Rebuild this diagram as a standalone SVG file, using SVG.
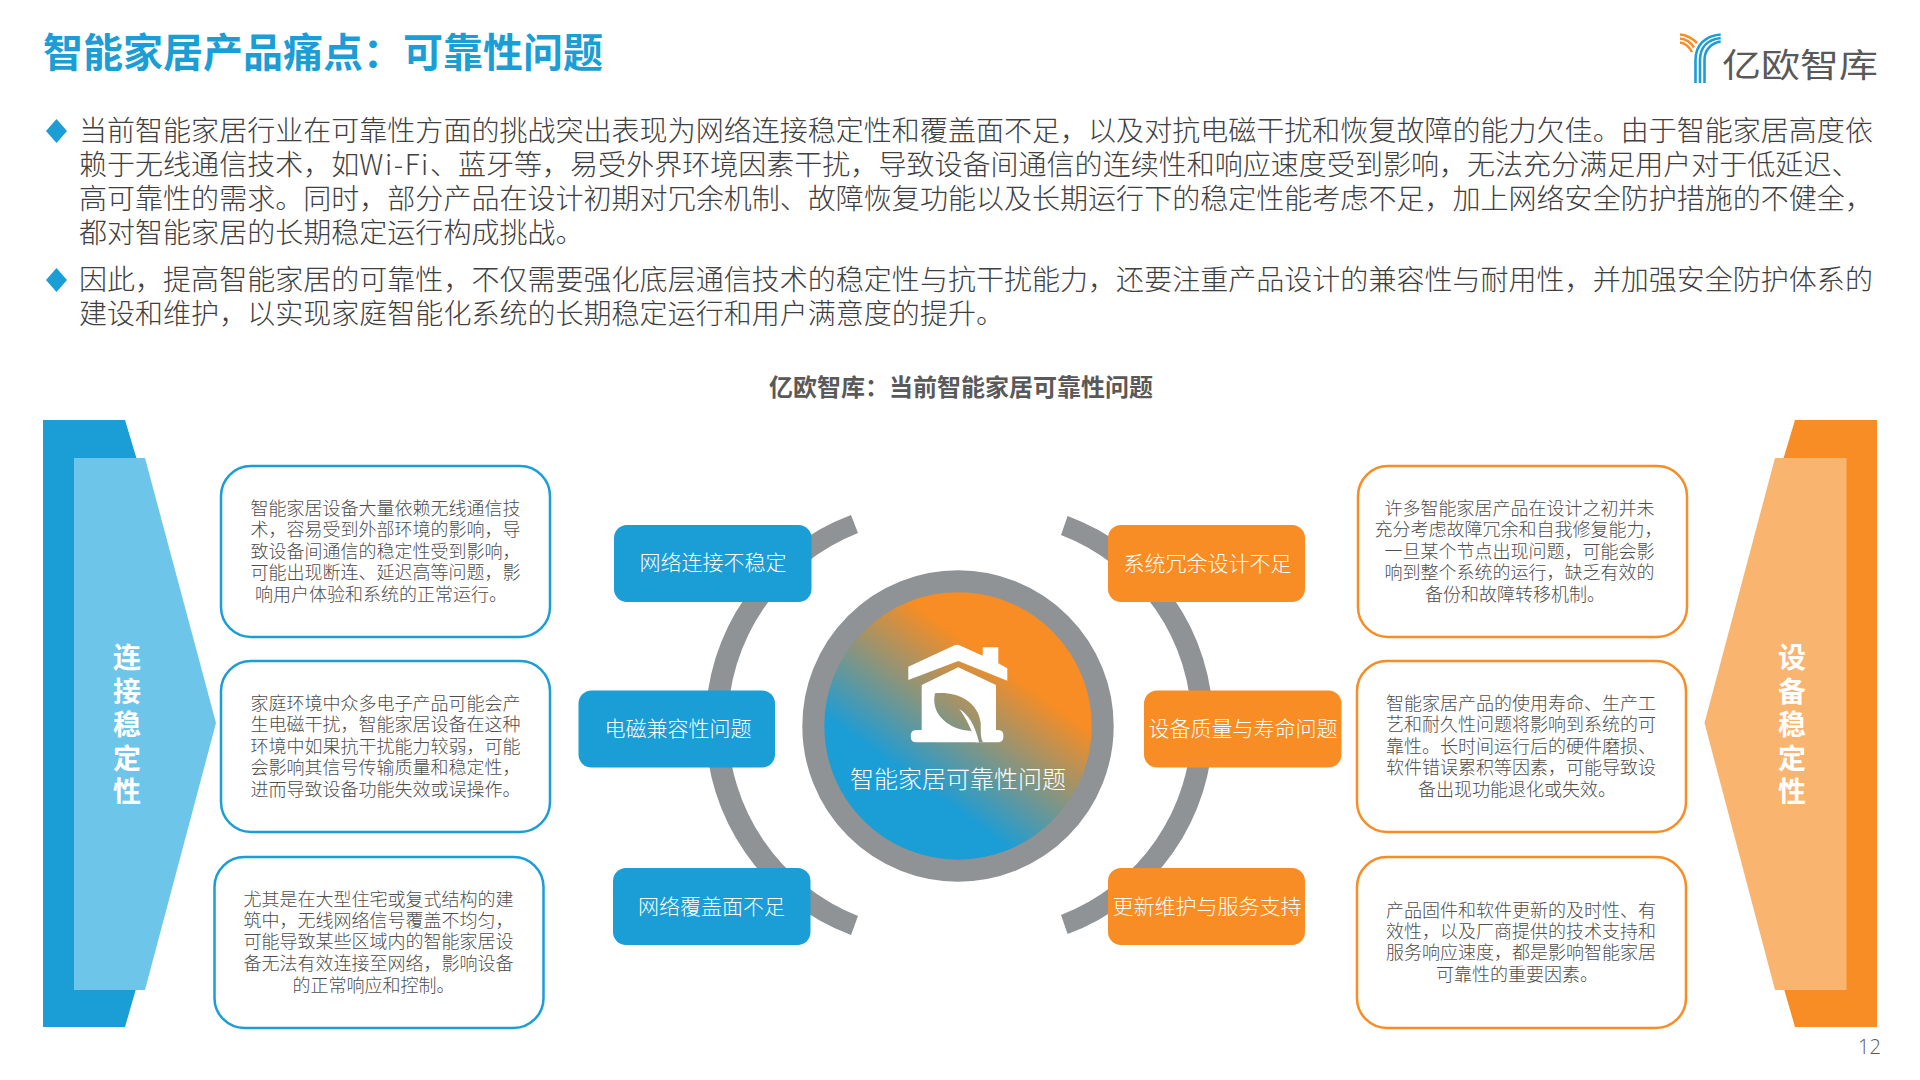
<svg xmlns="http://www.w3.org/2000/svg" width="1920" height="1080" viewBox="0 0 1920 1080">
<defs>
<linearGradient id="hub" gradientUnits="userSpaceOnUse" x1="917" y1="783" x2="1001" y2="666"><stop offset="0" stop-color="#1b9dd6"/><stop offset="1" stop-color="#f78d24"/></linearGradient>
</defs>
<style>
text{font-family:"Noto Sans CJK SC","Liberation Sans",sans-serif}
.title{font-size:40px;font-weight:700;fill:#1b9dd6}
.body{font-size:28px;font-weight:300;fill:#404040;letter-spacing:.03px}
.sub{font-size:24px;font-weight:700;fill:#595959;text-anchor:middle}
.t{font-size:18px;font-weight:300;fill:#4d4d4d;text-anchor:middle}
.side{font-size:28px;font-weight:700;fill:#fff;text-anchor:middle}
.pill{font-size:21px;font-weight:300;fill:#fff;text-anchor:middle}
.bluebox{fill:#fff;stroke:#1b9dd6;stroke-width:2.5}
.orangebox{fill:#fff;stroke:#f78d24;stroke-width:2.5}
.bp{fill:#1b9dd6}.op{fill:#f78d24}
.y1{fill:none;stroke:#1b9dd6;stroke-width:2.6}.y2{fill:none;stroke:#f78d24;stroke-width:2.6}
</style>
<rect width="1920" height="1080" fill="#fff"/>
<text class="title" x="43" y="67">智能家居产品痛点：可靠性问题</text>
<g id="logo">
<path class="y1" d="M1720.7 34.500C1705 36 1695.500 45 1695.500 60V83M1720.700 38C1708 39.500 1700 47 1700 60V83M1720.700 41.500C1711 43 1704.500 50 1704.500 60V83"/>
<path class="y2" d="M1680 34.500C1686 35 1692 38 1697 43M1680 38.500C1686 39 1690.500 42 1694 47.500M1680 42.500C1685 43 1689 46.500 1692 52"/>
<text transform="translate(1722 77) scale(1 .85)" font-size="39" font-weight="400" fill="#595959">亿欧智库</text>
</g>
<g id="intro">
<path class="bp" d="M56.500 119L67 131L56.500 143L46 131ZM56.500 268L67 280L56.500 292L46 280Z"/>
<text class="body" x="79" y="141">当前智能家居行业在可靠性方面的挑战突出表现为网络连接稳定性和覆盖面不足，以及对抗电磁干扰和恢复故障的能力欠佳。由于智能家居高度依</text>
<text class="body" x="79" y="175">赖于无线通信技术，如<tspan letter-spacing="1.600">Wi-Fi</tspan>、蓝牙等，易受外界环境因素干扰，导致设备间通信的连续性和响应速度受到影响，无法充分满足用户对于低延迟、</text>
<text class="body" x="79" y="209">高可靠性的需求。同时，部分产品在设计初期对冗余机制、故障恢复功能以及长期运行下的稳定性能考虑不足，加上网络安全防护措施的不健全，</text>
<text class="body" x="79" y="243">都对智能家居的长期稳定运行构成挑战。</text>
<text class="body" x="79" y="290">因此，提高智能家居的可靠性，不仅需要强化底层通信技术的稳定性与抗干扰能力，还要注重产品设计的兼容性与耐用性，并加强安全防护体系的</text>
<text class="body" x="79" y="324">建设和维护，以实现家庭智能化系统的长期稳定运行和用户满意度的提升。</text>
</g>
<text class="sub" x="961" y="396">亿欧智库：当前智能家居可靠性问题</text>
<g id="left-banner">
<path class="bp" d="M43 420H125L140 470V975L125 1027H43Z"/>
<path fill="#6ec5ea" d="M74 458H145L216 723L145 990H74Z"/>
<text class="side" x="127" y="668">连</text><text class="side" x="127" y="702">接</text><text class="side" x="127" y="735">稳</text><text class="side" x="127" y="769">定</text><text class="side" x="127" y="802">性</text>
</g>
<g id="right-banner">
<path class="op" d="M1795 420H1877V1027H1795L1780 975V470Z"/>
<path fill="#f9b56f" d="M1775 458H1846.500V990H1775L1704.500 723Z"/>
<text class="side" x="1792" y="668">设</text><text class="side" x="1792" y="702">备</text><text class="side" x="1792" y="735">稳</text><text class="side" x="1792" y="769">定</text><text class="side" x="1792" y="802">性</text>
</g>
<g id="connectors" fill="#8f9396">
<path d="M851 515A224.200 224.200 0 0 0 851 935L858 916A205.900 205.900 0 0 1 858 533Z"/>
<path d="M1067.600 516A222.800 222.800 0 0 1 1067.600 934L1061 915A203.500 203.500 0 0 0 1061 535Z"/>
</g>
<g id="hub">
<circle cx="958" cy="726" r="144.700" fill="url(#hub)" stroke="#8f9396" stroke-width="22"/>
<path fill="#fff" d="M908.300 680V666.700L954 645.500Q957 644 960 645.500L982.700 655.700V647.300H998.300V663.300L1007.300 668.300V680.700L958.300 661Z"/>
<path fill="#fff" d="M958.300 667.300L996 685V730H998Q1003.500 730 1003.500 736Q1003.500 742.300 998 742.300H916Q910.700 742.300 910.700 736Q910.700 730 916 730H921.700V685Z"/>
<path fill="url(#hub)" d="M935 693.300C955 691 978 700 980.700 723C981 730 980 737 983 742.300H977.500C975 736 973 733 971 731C950 730 930 715 935 693.300Z"/>
<path fill="#fff" d="M959.300 709C968 714 975 725 979 742.300H975.500C972 730 966 718 959.300 709Z"/>
<text class="pill" x="958" y="788" style="font-size:24px">智能家居可靠性问题</text>
</g>
<g id="pill-1"><rect class="bp" x="614" y="525" width="197.500" height="77" rx="13"/><text class="pill" x="713" y="570">网络连接不稳定</text></g>
<g id="pill-2"><rect class="bp" x="578.500" y="690.500" width="196.500" height="77" rx="13"/><text class="pill" x="678" y="735.500">电磁兼容性问题</text></g>
<g id="pill-3"><rect class="bp" x="613" y="868" width="197.500" height="77" rx="13"/><text class="pill" x="711.500" y="914">网络覆盖面不足</text></g>
<g id="pill-4"><rect class="op" x="1108" y="525" width="197" height="77" rx="13"/><text class="pill" x="1207.500" y="570.500">系统冗余设计不足</text></g>
<g id="pill-5"><rect class="op" x="1144" y="690.500" width="197.500" height="77" rx="13"/><text class="pill" x="1243" y="735.500">设备质量与寿命问题</text></g>
<g id="pill-6"><rect class="op" x="1108" y="868" width="197" height="77" rx="13"/><text class="pill" x="1207" y="914">更新维护与服务支持</text></g>
<g id="box-1"><rect class="bluebox" x="221" y="466" width="329" height="171" rx="30"/>
<text class="t" x="385.500" y="514.500">智能家居设备大量依赖无线通信技</text><text class="t" x="385.500" y="536">术，容易受到外部环境的影响，导</text><text class="t" x="385.500" y="557.500">致设备间通信的稳定性受到影响，</text><text class="t" x="385.500" y="579">可能出现断连、延迟高等问题，影</text><text class="t" x="381" y="600.500">响用户体验和系统的正常运行。</text></g>
<g id="box-2"><rect class="bluebox" x="221" y="661" width="329" height="171" rx="30"/>
<text class="t" x="385.500" y="709.500">家庭环境中众多电子产品可能会产</text><text class="t" x="385.500" y="731">生电磁干扰，智能家居设备在这种</text><text class="t" x="385.500" y="752.500">环境中如果抗干扰能力较弱，可能</text><text class="t" x="385.500" y="774">会影响其信号传输质量和稳定性，</text><text class="t" x="385.500" y="795.500">进而导致设备功能失效或误操作。</text></g>
<g id="box-3"><rect class="bluebox" x="214.500" y="857" width="329" height="171" rx="30"/>
<text class="t" x="378.500" y="905.500">尤其是在大型住宅或复式结构的建</text><text class="t" x="378.500" y="926.500">筑中，无线网络信号覆盖不均匀，</text><text class="t" x="378.500" y="948">可能导致某些区域内的智能家居设</text><text class="t" x="378.500" y="969.500">备无法有效连接至网络，影响设备</text><text class="t" x="373.500" y="991.500">的正常响应和控制。</text></g>
<g id="box-4"><rect class="orangebox" x="1358" y="466" width="329" height="171" rx="30"/>
<text class="t" x="1519.500" y="514.500">许多智能家居产品在设计之初并未</text><text class="t" x="1518.500" y="536">充分考虑故障冗余和自我修复能力，</text><text class="t" x="1519.500" y="557.500">一旦某个节点出现问题，可能会影</text><text class="t" x="1519.500" y="579">响到整个系统的运行，缺乏有效的</text><text class="t" x="1515" y="600.500">备份和故障转移机制。</text></g>
<g id="box-5"><rect class="orangebox" x="1357" y="661" width="329" height="171" rx="30"/>
<text class="t" x="1521" y="709.500">智能家居产品的使用寿命、生产工</text><text class="t" x="1521" y="731">艺和耐久性问题将影响到系统的可</text><text class="t" x="1521" y="752.500">靠性。长时间运行后的硬件磨损、</text><text class="t" x="1521" y="774">软件错误累积等因素，可能导致设</text><text class="t" x="1517" y="795.500">备出现功能退化或失效。</text></g>
<g id="box-6"><rect class="orangebox" x="1357" y="857" width="329" height="171" rx="30"/>
<text class="t" x="1521" y="916.500">产品固件和软件更新的及时性、有</text><text class="t" x="1521" y="937.500">效性，以及厂商提供的技术支持和</text><text class="t" x="1521" y="959">服务响应速度，都是影响智能家居</text><text class="t" x="1517" y="980.500">可靠性的重要因素。</text></g>
<text x="1858" y="1054" font-size="20" font-weight="300" fill="#595959" style="font-family:'Open Sans','Liberation Sans',sans-serif">12</text>
</svg>
